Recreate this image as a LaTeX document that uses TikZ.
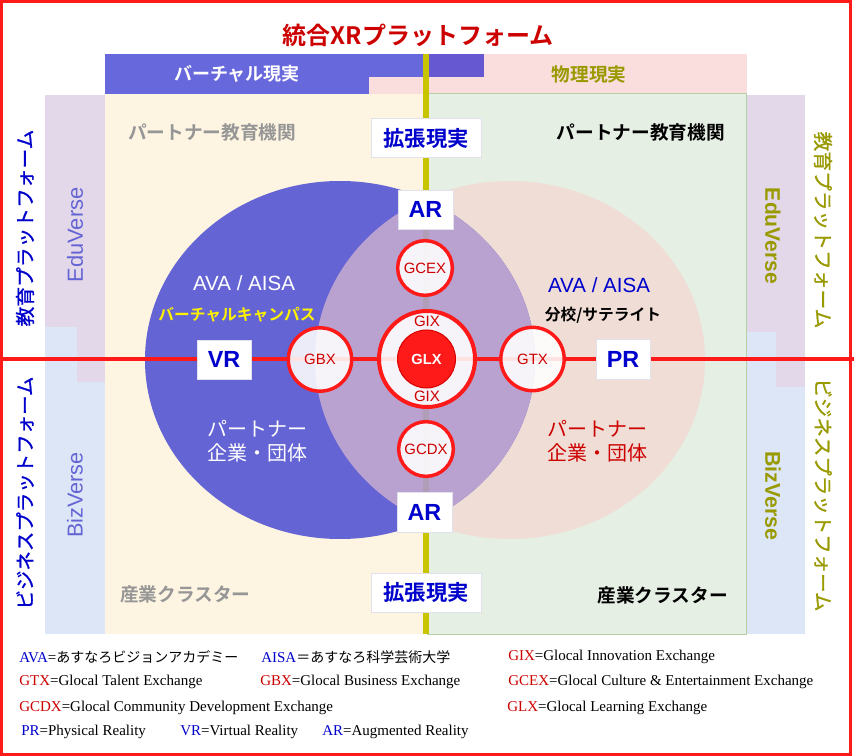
\documentclass[tikz,border=0pt]{standalone}
\usepackage{fontspec}
\setmainfont{Liberation Sans}
\newfontfamily\jp{Noto Sans CJK JP}[BoldFont={Noto Sans CJK JP Bold}]
\newfontfamily\jpm{Noto Sans CJK JP}[FakeBold=0.9]
\newfontfamily\lser{Liberation Serif}
\newcommand\fsz[2]{\fontsize{#1}{#2}\selectfont}
\definecolor{cblue}{RGB}{100,100,212}
\definecolor{cbandblue}{RGB}{104,104,221}
\definecolor{cbanddark}{RGB}{102,88,208}
\definecolor{cpink}{RGB}{240,221,214}
\definecolor{clens}{RGB}{185,162,208}
\definecolor{clensline}{RGB}{176,158,184}
\definecolor{ccream}{RGB}{253,245,225}
\definecolor{cgreen}{RGB}{229,239,228}
\definecolor{cgborder}{RGB}{182,208,166}
\definecolor{clav}{RGB}{227,216,233}
\definecolor{clblue}{RGB}{220,230,247}
\definecolor{cpinkband}{RGB}{250,222,222}
\definecolor{cyel}{RGB}{200,196,0}
\definecolor{cred}{RGB}{255,26,26}
\definecolor{dred}{RGB}{205,0,0}
\definecolor{tblue}{RGB}{0,0,204}
\definecolor{colive}{RGB}{153,153,0}
\definecolor{cgraytxt}{RGB}{150,150,150}
\tikzset{
  wbox/.style={fill=white, draw={rgb,255:red,225;green,225;blue,235}, line width=0.5pt, inner sep=0pt},
  xcirc/.style={circle, draw=cred, line width=2.6pt, fill=white, fill opacity=0.88, text opacity=1, inner sep=0pt, text=dred, font=\fsz{11.2pt}{12pt}},
  lgd/.style={anchor=west, inner sep=0pt, font=\lser\fsz{11.25pt}{12pt}},
}
\begin{document}
\begin{tikzpicture}[x=0.75pt,y=-0.75pt]
\useasboundingbox (0,0) rectangle (854,756);
\fill[white] (0,0) rectangle (854,756);
% top band
\fill[cpinkband] (369,54) rectangle (747,94);
\fill[cbandblue] (105,54) rectangle (369,94);
\fill[cbandblue] (369,54) rectangle (427,77);
\fill[cbanddark] (427,54) rectangle (484,77);
% side strips
\fill[clav] (45,95) rectangle (105,327);
\fill[clblue] (45,327) rectangle (105,634);
\fill[clav] (77,327) rectangle (105,382);
\fill[clav] (745,95) rectangle (805,332);
\fill[clblue] (745,332) rectangle (805,634);
\fill[clav] (776,332) rectangle (805,387);
% panels
\fill[ccream] (105,94) rectangle (427,634);
\filldraw[fill=cgreen, draw=cgborder, line width=0.75pt] (427,94) rectangle (746,634);
% yellow line
\coordinate (yt) at (426,54);
\coordinate (yb) at (426,634);
\draw[cyel, line width=4.5pt] (yt) -- (yb);
% ellipses
\coordinate (lc) at (340,360);
\coordinate (rc) at (510,360);
\fill[cpink] (rc) ellipse [x radius=146.25pt, y radius=134.25pt];
\fill[cblue] (lc) ellipse [x radius=146.25pt, y radius=134.25pt];
\begin{scope}
  \clip (lc) ellipse [x radius=146.25pt, y radius=134.25pt];
  \fill[clens] (rc) ellipse [x radius=146.25pt, y radius=134.25pt];
  \clip (rc) ellipse [x radius=146.25pt, y radius=134.25pt];
  \draw[clensline, line width=4.5pt] (yt) -- (yb);
\end{scope}
% horizontal red line
\coordinate (hl) at (0,359);
\coordinate (hr) at (854,359);
\draw[cred, line width=2.3pt] (hl) -- (hr);
% white boxes
\node[wbox, minimum width=82.5pt, minimum height=29.25pt, font=\jp\bfseries\fsz{16pt}{16pt}, text=tblue] (kt) at (426,138) {拡張現実};
\node[wbox, minimum width=82.5pt, minimum height=29.25pt, font=\jp\bfseries\fsz{16pt}{16pt}, text=tblue] (kb) at (426,592.5) {拡張現実};
\node[wbox, minimum width=41.25pt, minimum height=29.25pt, font=\bfseries\fsz{17.5pt}{17.5pt}, text=tblue] (art) at (425.5,209.5) {AR};
\node[wbox, minimum width=41.25pt, minimum height=30pt, font=\bfseries\fsz{17.5pt}{17.5pt}, text=tblue] (arb) at (424.5,512) {AR};
\node[wbox, minimum width=40.5pt, minimum height=29.25pt, font=\bfseries\fsz{17.5pt}{17.5pt}, text=tblue] (vr) at (224,359.5) {VR};
\node[wbox, minimum width=40.5pt, minimum height=30pt, font=\bfseries\fsz{17.5pt}{17.5pt}, text=tblue] (pr) at (623,359) {PR};
% circles
\node[xcirc, minimum size=47.5pt] (gbx) at (320,359.5) {GBX};
\node[xcirc, minimum size=47.5pt] (gtx) at (532.5,359) {GTX};
\node[xcirc, minimum size=41pt] (gcex) at (425,268) {GCEX};
\node[xcirc, minimum size=41pt] (gcdx) at (426,449) {GCDX};
\node[xcirc, minimum size=72pt, line width=3pt] (gix) at (427,359) {};
\node[circle, fill=cred, draw={rgb,255:red,215;green,0;blue,0}, line width=0.75pt, minimum size=43.5pt, inner sep=0pt, text=white, font=\bfseries\fsz{11pt}{12pt}] (glx) at (426.5,359) {GLX};
\node[text=dred, font=\fsz{11.3pt}{12pt}, inner sep=0pt] (gixt) at (427,321) {GIX};
\node[text=dred, font=\fsz{11.3pt}{12pt}, inner sep=0pt] (gixb) at (427,396) {GIX};
% titles and labels
\node[font=\jp\bfseries\fsz{18pt}{20pt}, text=dred] (title) at (418,35) {統合XRプラットフォーム};
\node[font=\jp\bfseries\fsz{13.5pt}{14pt}, text=white] (vband) at (237,74) {バーチャル現実};
\node[font=\jp\bfseries\fsz{14pt}{14pt}, text=colive] (pband) at (589,74) {物理現実};
\node[anchor=west, inner sep=0pt, font=\jp\bfseries\fsz{14pt}{14pt}, text=cgraytxt] (pel) at (128,132) {パートナー教育機関};
\node[anchor=east, inner sep=0pt, font=\jp\bfseries\fsz{14pt}{14pt}, text=black] (per) at (725,132) {パートナー教育機関};
\node[anchor=west, inner sep=0pt, font=\jp\bfseries\fsz{14pt}{14pt}, text=cgraytxt] (icl) at (120,594) {産業クラスター};
\node[anchor=east, inner sep=0pt, font=\jp\bfseries\fsz{14pt}{14pt}, text=black] (icr) at (728,595) {産業クラスター};
\node[font=\fsz{15.4pt}{16pt}, text=white] (avl) at (244,283) {AVA / AISA};
\node[font=\fsz{15.4pt}{16pt}, text=tblue] (avr) at (599,285) {AVA / AISA};
\node[font=\jp\bfseries\fsz{11.8pt}{12pt}, text=yellow] (vc) at (237,315) {バーチャルキャンパス};
\node[font=\jp\bfseries\fsz{11.8pt}{12pt}, text=black] (sat) at (603,315) {分校/サテライト};
\node[font=\jp\fsz{15pt}{18pt}, text=white, align=center] (ptl) at (257,441) {パートナー\\企業・団体};
\node[font=\jp\fsz{15pt}{18pt}, text=dred, align=center] (ptr) at (597,441) {パートナー\\企業・団体};
% vertical texts
\node[rotate=90, font=\jpm\fsz{14.8pt}{15pt}, text=tblue] (edl) at (25,228) {教育プラットフォーム};
\node[rotate=90, font=\jpm\fsz{14.6pt}{15pt}, text=tblue] (bzl) at (25,493) {ビジネスプラットフォーム};
\node[rotate=-90, font=\jpm\fsz{14.8pt}{15pt}, text=colive] (edr) at (823,230) {教育プラットフォーム};
\node[rotate=-90, font=\jpm\fsz{14.6pt}{15pt}, text=colive] (bzr) at (823,495) {ビジネスプラットフォーム};
\node[rotate=90, font=\fsz{16.4pt}{17pt}, text=cblue] (evl) at (75,235) {EduVerse};
\node[rotate=90, font=\fsz{16.2pt}{17pt}, text=cblue] (bvl) at (75,495) {BizVerse};
\node[rotate=-90, font=\bfseries\fsz{15.8pt}{17pt}, text=colive] (evr) at (773,236) {EduVerse};
\node[rotate=-90, font=\bfseries\fsz{16pt}{17pt}, text=colive] (bvr) at (773,496) {BizVerse};
% legend
\node[lgd] (l1) at (19,657) {\textcolor{tblue}{AVA}={\jp\fsz{10.5pt}{12pt}あすなろビジョンアカデミー}};
\node[lgd] (l2) at (261,657) {\textcolor{tblue}{AISA}{\jp\fsz{10.5pt}{12pt}＝あすなろ科学芸術大学}};
\node[lgd] (l3) at (508,657) {\textcolor{dred}{GIX}=Glocal Innovation Exchange};
\node[lgd] (l4) at (19,682) {\textcolor{dred}{GTX}=Glocal Talent Exchange};
\node[lgd] (l5) at (260,682) {\textcolor{dred}{GBX}=Glocal Business Exchange};
\node[lgd] (l6) at (508,682) {\textcolor{dred}{GCEX}=Glocal Culture \& Entertainment Exchange};
\node[lgd] (l7) at (19,708) {\textcolor{dred}{GCDX}=Glocal Community Development Exchange};
\node[lgd] (l8) at (507,708) {\textcolor{dred}{GLX}=Glocal Learning Exchange};
\node[lgd] (l9) at (21,732) {\textcolor{tblue}{PR}=Physical Reality};
\node[lgd] (l10) at (180,732) {\textcolor{tblue}{VR}=Virtual Reality};
\node[lgd] (l11) at (322,732) {\textcolor{tblue}{AR}=Augmented Reality};
% frame
\draw[cred, line width=2.6pt] (1.7,1.7) rectangle (850.5,754.3);
\end{tikzpicture}
\end{document}
